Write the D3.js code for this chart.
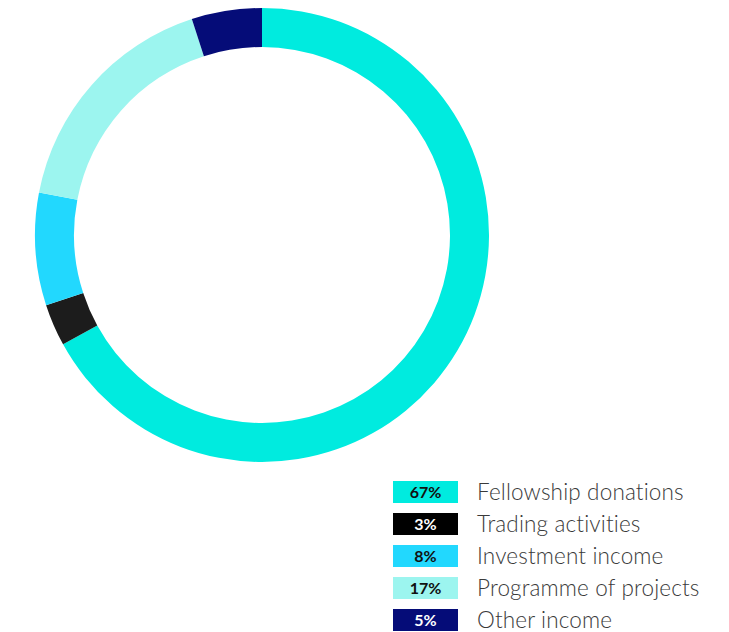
<!DOCTYPE html>
<html>
<head>
<meta charset="utf-8">
<script src="https://cdn.jsdelivr.net/npm/d3@7"></script>
<style>
  html, body { margin: 0; padding: 0; background: #ffffff; }
  svg { display: block; }
</style>
</head>
<body>
<svg id="chart" width="729" height="632"></svg>
<script>
// Income sources, share of total (%)
const categories = ["Fellowship donations", "Trading activities", "Investment income", "Programme of projects", "Other income"];
const shares = [67, 3, 8, 17, 5];
const percentLabels = ["67%", "3%", "8%", "17%", "5%"];
const sliceColors = ["#00ebdf", "#1c1c1c", "#22d8fe", "#9cf5ef", "#050c78"];
const swatchColors = ["#00ebdf", "#000000", "#22d8fe", "#9cf5ef", "#050c78"];
const labelColors = ["#111111", "#ffffff", "#111111", "#111111", "#ffffff"];

const svg = d3.select("#chart");

const cx = 262, cy = 235, outerR = 227, innerR = 188;

const pie = d3.pie().sort(null).value(d => d)
  .startAngle(0).endAngle(2 * Math.PI);
const arc = d3.arc().innerRadius(innerR).outerRadius(outerR);

const donut = svg.append("g").attr("transform", `translate(${cx},${cy})`);
donut.selectAll("path")
  .data(pie(shares))
  .join("path")
  .attr("d", arc)
  .attr("fill", (d, i) => sliceColors[i]);

// Legend
const rowY = d3.scalePoint().domain(categories).range([481, 609]);
const swX = 393, swW = 65, swH = 22;

const legend = svg.append("g");
const rows = legend.selectAll("g")
  .data(categories)
  .join("g")
  .attr("transform", d => `translate(0,${rowY(d)})`);

rows.append("rect")
  .attr("x", swX).attr("y", 0)
  .attr("width", swW).attr("height", swH)
  .attr("fill", (d, i) => swatchColors[i]);

rows.append("text")
  .attr("x", swX + swW / 2).attr("y", swH / 2 + 6)
  .attr("text-anchor", "middle")
  .attr("font-family", "Lato, 'Open Sans', sans-serif")
  .attr("font-weight", 700)
  .attr("font-size", 16)
  .attr("fill", (d, i) => labelColors[i])
  .text((d, i) => percentLabels[i]);

rows.append("text")
  .attr("x", 477).attr("y", swH / 2 + 8)
  .attr("font-family", "Lato, 'Open Sans', sans-serif")
  .attr("font-weight", 300)
  .attr("font-size", 22.5)
  .attr("letter-spacing", 0.15)
  .attr("fill", "#3a3a3a")
  .text(d => d);
</script>
</body>
</html>
